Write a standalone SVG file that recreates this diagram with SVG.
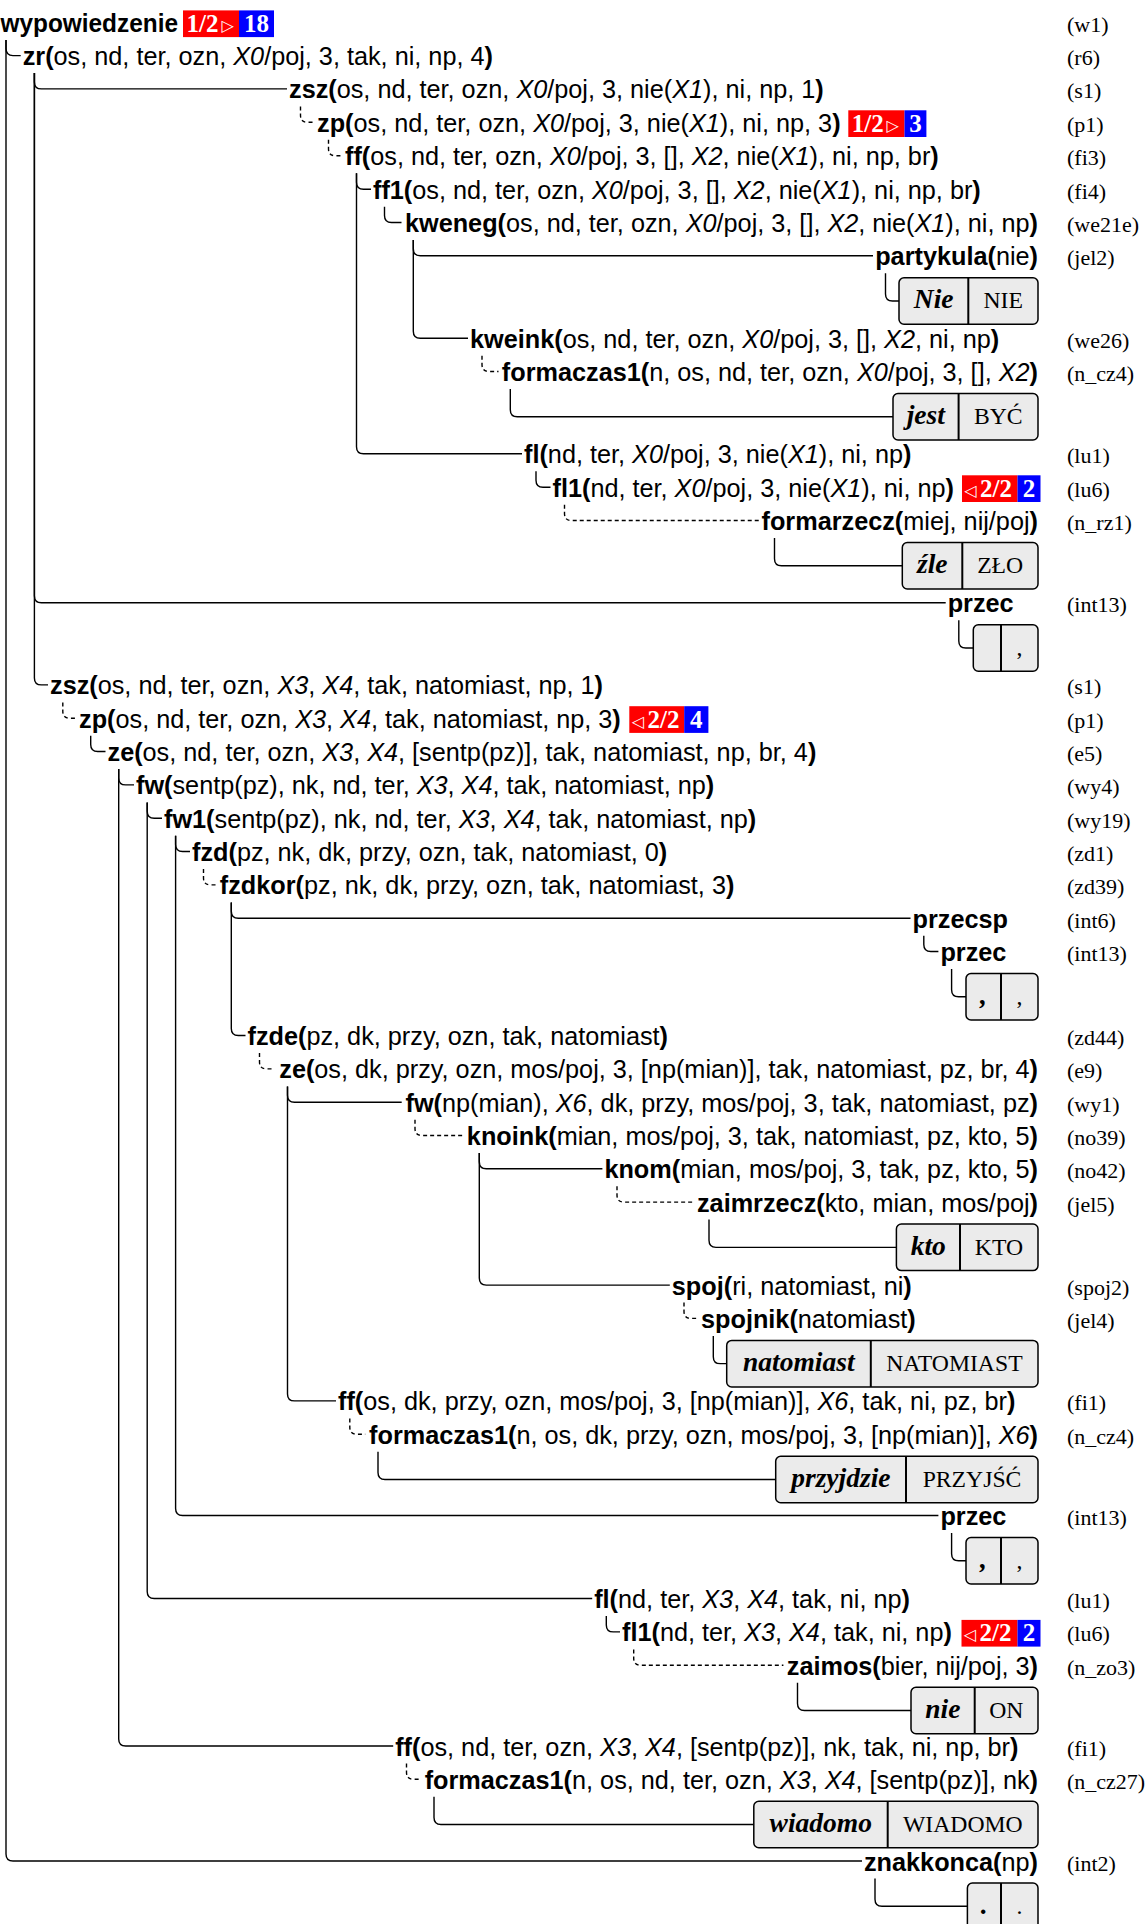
<svg xmlns="http://www.w3.org/2000/svg" width="1147" height="1924" viewBox="0 0 1147 1924">
<style>
text.n{font-family:"Liberation Sans",Arial,sans-serif;font-size:25.25px;fill:#000}
.b{font-weight:bold}
.i{font-style:italic}
.e{text-anchor:end}
text.lab{font-family:"Liberation Serif","Times New Roman",serif;font-size:22px;fill:#000}
.c{fill:none;stroke:#000;stroke-width:1.4}
.d{stroke-dasharray:4 3}
.bx{fill:#ebebeb;stroke:#000;stroke-width:1.5}
.dv{stroke:#000;stroke-width:2}
text.f{font-family:"Liberation Serif","Times New Roman",serif;font-weight:bold;font-style:italic;font-size:27.5px;text-anchor:middle;fill:#000}
text.l{font-family:"Liberation Serif","Times New Roman",serif;font-size:23.7px;text-anchor:middle;fill:#000}
.r{fill:#ff0000}
.u{fill:#0000ff}
text.bt{font-family:"Liberation Serif","Times New Roman",serif;font-weight:bold;font-size:25px;fill:#fff}
text.tr{font-family:"DejaVu Sans",sans-serif;font-size:16px;fill:#fff}
</style>
<g id="connectors">
<path class="c" d="M6 39.9V48.6Q6 55.6 13 55.6H20.7"/>
<path class="c" d="M6 39.9V1854Q6 1861 13 1861H862"/>
<path class="c" d="M34.4 73.1V81.9Q34.4 88.9 41.4 88.9H287"/>
<path class="c" d="M34.4 73.1V595.7Q34.4 602.7 41.4 602.7H945.7"/>
<path class="c" d="M34.4 73.1V677.9Q34.4 684.9 41.4 684.9H48"/>
<path class="c d" d="M300.5 106.4V115.3Q300.5 122.3 307.5 122.3H315"/>
<path class="c d" d="M328.5 139.8V148.8Q328.5 155.8 335.5 155.8H343"/>
<path class="c" d="M356.5 173.3V182.2Q356.5 189.2 363.5 189.2H371"/>
<path class="c" d="M356.5 173.3V446.8Q356.5 453.8 363.5 453.8H522"/>
<path class="c" d="M384.5 206.7V215.5Q384.5 222.5 391.5 222.5H401.5"/>
<path class="c" d="M413.3 240V248.7Q413.3 255.7 420.3 255.7H873"/>
<path class="c" d="M413.3 240V331.2Q413.3 338.2 420.3 338.2H468"/>
<path class="c" d="M885.5 273.2V294Q885.5 301 892.5 301H899"/>
<path class="c d" d="M482 355.7V364.5Q482 371.5 489 371.5H498.5"/>
<path class="c" d="M510.3 389V409.75Q510.3 416.75 517.3 416.75H893"/>
<path class="c" d="M536 471.3V480.3Q536 487.3 543 487.3H550.5"/>
<path class="c d" d="M564.5 504.8V513.5Q564.5 520.5 571.5 520.5H759.6"/>
<path class="c" d="M774.5 538V558.75Q774.5 565.75 781.5 565.75H902.3"/>
<path class="c" d="M958.8 620.2V640.95Q958.8 647.95 965.8 647.95H973.3"/>
<path class="c d" d="M62.8 702.4V711.2Q62.8 718.2 69.8 718.2H77"/>
<path class="c" d="M90.7 735.7V744.5Q90.7 751.5 97.7 751.5H105.5"/>
<path class="c" d="M118.7 769V777.9Q118.7 784.9 125.7 784.9H134"/>
<path class="c" d="M118.7 769V1739Q118.7 1746 125.7 1746H393.2"/>
<path class="c" d="M147.2 802.4V811.2Q147.2 818.2 154.2 818.2H162"/>
<path class="c" d="M147.2 802.4V1591.5Q147.2 1598.5 154.2 1598.5H592.2"/>
<path class="c" d="M175.6 835.7V844.5Q175.6 851.5 182.6 851.5H190"/>
<path class="c" d="M175.6 835.7V1508.5Q175.6 1515.5 182.6 1515.5H938.4"/>
<path class="c d" d="M203.5 869V877.9Q203.5 884.9 210.5 884.9H217.8"/>
<path class="c" d="M231.3 902.4V911.2Q231.3 918.2 238.3 918.2H910.5"/>
<path class="c" d="M231.3 902.4V1028.5Q231.3 1035.5 238.3 1035.5H245.5"/>
<path class="c" d="M923.8 935.7V944.5Q923.8 951.5 930.8 951.5H938.4"/>
<path class="c" d="M951.6 969V989.75Q951.6 996.75 958.6 996.75H966"/>
<path class="c d" d="M259.5 1053V1061.9Q259.5 1068.9 266.5 1068.9H274"/>
<path class="c" d="M287.5 1086.4V1095.2Q287.5 1102.2 294.5 1102.2H401.7"/>
<path class="c" d="M287.5 1086.4V1393.9Q287.5 1400.9 294.5 1400.9H336"/>
<path class="c d" d="M415 1119.7V1128.5Q415 1135.5 422 1135.5H465"/>
<path class="c" d="M479.3 1153V1161.8Q479.3 1168.8 486.3 1168.8H602.4"/>
<path class="c" d="M479.3 1153V1278.1Q479.3 1285.1 486.3 1285.1H669.8"/>
<path class="c d" d="M617 1186.3V1195.1Q617 1202.1 624 1202.1H695"/>
<path class="c" d="M709 1219.6V1240.35Q709 1247.35 716 1247.35H896.4"/>
<path class="c d" d="M684 1302.6V1311.4Q684 1318.4 691 1318.4H699"/>
<path class="c" d="M713.3 1335.9V1356.65Q713.3 1363.65 720.3 1363.65H726.7"/>
<path class="c d" d="M349.8 1418.4V1427.2Q349.8 1434.2 356.8 1434.2H365.2"/>
<path class="c" d="M378 1451.7V1472.45Q378 1479.45 385 1479.45H775.7"/>
<path class="c" d="M951.6 1533V1553.75Q951.6 1560.75 958.6 1560.75H966"/>
<path class="c" d="M606.3 1616V1624.9Q606.3 1631.9 613.3 1631.9H620"/>
<path class="c d" d="M633.7 1649.4V1658.2Q633.7 1665.2 640.7 1665.2H783.4"/>
<path class="c" d="M797.5 1682.7V1703.45Q797.5 1710.45 804.5 1710.45H911"/>
<path class="c d" d="M406.5 1763.5V1772.3Q406.5 1779.3 413.5 1779.3H421.3"/>
<path class="c" d="M434 1796.8V1817.55Q434 1824.55 441 1824.55H753.8"/>
<path class="c" d="M875 1878.5V1899.25Q875 1906.25 882 1906.25H967.4"/>
</g>
<g id="w1">
<text class="n b" x="0.5" y="31.9" textLength="177.5" lengthAdjust="spacingAndGlyphs">wypowiedzenie</text>
<rect class="r" x="183" y="10.4" width="56" height="26.7"/><rect class="u" x="239" y="10.4" width="35" height="26.7"/>
<text class="bt" x="186.5" y="31.9">1/2</text><text class="tr" x="221.5" y="30.9">▷</text>
<text class="bt" x="256.5" y="31.9" text-anchor="middle">18</text>
<text class="lab" x="1067" y="31.9">(w1)</text>
</g>
<g id="r6">
<text class="n" x="22.7" y="65.1"><tspan class="b">zr(</tspan>os, nd, ter, ozn, <tspan class="i">X0</tspan>/poj, 3, tak, ni, np, 4<tspan class="b">)</tspan></text>
<text class="lab" x="1067" y="65.1">(r6)</text>
</g>
<g id="s1a">
<text class="n" x="289" y="98.4"><tspan class="b">zsz(</tspan>os, nd, ter, ozn, <tspan class="i">X0</tspan>/poj, 3, nie(<tspan class="i">X1</tspan>), ni, np, 1<tspan class="b">)</tspan></text>
<text class="lab" x="1067" y="98.4">(s1)</text>
</g>
<g id="p1a">
<text class="n" x="317" y="131.8"><tspan class="b">zp(</tspan>os, nd, ter, ozn, <tspan class="i">X0</tspan>/poj, 3, nie(<tspan class="i">X1</tspan>), ni, np, 3<tspan class="b">)</tspan></text>
<rect class="r" x="848.3" y="110.3" width="56.2" height="26.7"/><rect class="u" x="904.5" y="110.3" width="21.9" height="26.7"/>
<text class="bt" x="851.8" y="131.8">1/2</text><text class="tr" x="886.5" y="130.8">▷</text>
<text class="bt" x="915.45" y="131.8" text-anchor="middle">3</text>
<text class="lab" x="1067" y="131.8">(p1)</text>
</g>
<g id="fi3">
<text class="n" x="345" y="165.3"><tspan class="b">ff(</tspan>os, nd, ter, ozn, <tspan class="i">X0</tspan>/poj, 3, [], <tspan class="i">X2</tspan>, nie(<tspan class="i">X1</tspan>), ni, np, br<tspan class="b">)</tspan></text>
<text class="lab" x="1067" y="165.3">(fi3)</text>
</g>
<g id="fi4">
<text class="n" x="373" y="198.7"><tspan class="b">ff1(</tspan>os, nd, ter, ozn, <tspan class="i">X0</tspan>/poj, 3, [], <tspan class="i">X2</tspan>, nie(<tspan class="i">X1</tspan>), ni, np, br<tspan class="b">)</tspan></text>
<text class="lab" x="1067" y="198.7">(fi4)</text>
</g>
<g id="we21e">
<text class="n e" x="1038" y="232"><tspan class="b">kweneg(</tspan>os, nd, ter, ozn, <tspan class="i">X0</tspan>/poj, 3, [], <tspan class="i">X2</tspan>, nie(<tspan class="i">X1</tspan>), ni, np<tspan class="b">)</tspan></text>
<text class="lab" x="1067" y="232">(we21e)</text>
</g>
<g id="jel2">
<text class="n e" x="1038" y="265.2"><tspan class="b">partykula(</tspan>nie<tspan class="b">)</tspan></text>
<text class="lab" x="1067" y="265.2">(jel2)</text>
</g>
<g id="tok_Nie">
<rect class="bx" x="899" y="277.7" width="139" height="46.5" rx="5"/>
<line class="dv" x1="968.3" y1="277.7" x2="968.3" y2="324.2"/>
<text class="f" x="933.65" y="308.45">Nie</text><text class="l" x="1003.15" y="308.45">NIE</text>
</g>
<g id="we26">
<text class="n" x="470" y="347.7"><tspan class="b">kweink(</tspan>os, nd, ter, ozn, <tspan class="i">X0</tspan>/poj, 3, [], <tspan class="i">X2</tspan>, ni, np<tspan class="b">)</tspan></text>
<text class="lab" x="1067" y="347.7">(we26)</text>
</g>
<g id="n_cz4a">
<text class="n e" x="1038" y="381"><tspan class="b">formaczas1(</tspan>n, os, nd, ter, ozn, <tspan class="i">X0</tspan>/poj, 3, [], <tspan class="i">X2</tspan><tspan class="b">)</tspan></text>
<text class="lab" x="1067" y="381">(n_cz4)</text>
</g>
<g id="tok_jest">
<rect class="bx" x="893" y="393.5" width="145" height="46.5" rx="5"/>
<line class="dv" x1="958.6" y1="393.5" x2="958.6" y2="440"/>
<text class="f" x="925.8" y="424.25">jest</text><text class="l" x="998.3" y="424.25">BYĆ</text>
</g>
<g id="lu1a">
<text class="n" x="524" y="463.3"><tspan class="b">fl(</tspan>nd, ter, <tspan class="i">X0</tspan>/poj, 3, nie(<tspan class="i">X1</tspan>), ni, np<tspan class="b">)</tspan></text>
<text class="lab" x="1067" y="463.3">(lu1)</text>
</g>
<g id="lu6a">
<text class="n" x="552.5" y="496.8"><tspan class="b">fl1(</tspan>nd, ter, <tspan class="i">X0</tspan>/poj, 3, nie(<tspan class="i">X1</tspan>), ni, np<tspan class="b">)</tspan></text>
<rect class="r" x="962" y="475.3" width="55.5" height="26.7"/><rect class="u" x="1017.5" y="475.3" width="23" height="26.7"/>
<text class="tr" x="964.5" y="495.8">◁</text><text class="bt" x="980" y="496.8">2/2</text>
<text class="bt" x="1029" y="496.8" text-anchor="middle">2</text>
<text class="lab" x="1067" y="496.8">(lu6)</text>
</g>
<g id="n_rz1">
<text class="n e" x="1038" y="530"><tspan class="b">formarzecz(</tspan>miej, nij/poj<tspan class="b">)</tspan></text>
<text class="lab" x="1067" y="530">(n_rz1)</text>
</g>
<g id="tok_zle">
<rect class="bx" x="902.3" y="542.5" width="135.7" height="46.5" rx="5"/>
<line class="dv" x1="962.3" y1="542.5" x2="962.3" y2="589"/>
<text class="f" x="932.3" y="573.25">źle</text><text class="l" x="1000.15" y="573.25">ZŁO</text>
</g>
<g id="int13a">
<text class="n b" x="947.7" y="612.2">przec</text>
<text class="lab" x="1067" y="612.2">(int13)</text>
</g>
<g id="tok_comma1">
<rect class="bx" x="973.3" y="624.7" width="64.7" height="46.5" rx="5"/>
<line class="dv" x1="1001" y1="624.7" x2="1001" y2="671.2"/>
<text class="l" x="1019.5" y="655.45">,</text>
</g>
<g id="s1b">
<text class="n" x="50" y="694.4"><tspan class="b">zsz(</tspan>os, nd, ter, ozn, <tspan class="i">X3</tspan>, <tspan class="i">X4</tspan>, tak, natomiast, np, 1<tspan class="b">)</tspan></text>
<text class="lab" x="1067" y="694.4">(s1)</text>
</g>
<g id="p1b">
<text class="n" x="79" y="727.7"><tspan class="b">zp(</tspan>os, nd, ter, ozn, <tspan class="i">X3</tspan>, <tspan class="i">X4</tspan>, tak, natomiast, np, 3<tspan class="b">)</tspan></text>
<rect class="r" x="629.3" y="706.2" width="54.9" height="26.7"/><rect class="u" x="684.2" y="706.2" width="24.2" height="26.7"/>
<text class="tr" x="632" y="726.7">◁</text><text class="bt" x="647.5" y="727.7">2/2</text>
<text class="bt" x="696.3" y="727.7" text-anchor="middle">4</text>
<text class="lab" x="1067" y="727.7">(p1)</text>
</g>
<g id="e5">
<text class="n" x="107.5" y="761"><tspan class="b">ze(</tspan>os, nd, ter, ozn, <tspan class="i">X3</tspan>, <tspan class="i">X4</tspan>, [sentp(pz)], tak, natomiast, np, br, 4<tspan class="b">)</tspan></text>
<text class="lab" x="1067" y="761">(e5)</text>
</g>
<g id="wy4">
<text class="n" x="136" y="794.4"><tspan class="b">fw(</tspan>sentp(pz), nk, nd, ter, <tspan class="i">X3</tspan>, <tspan class="i">X4</tspan>, tak, natomiast, np<tspan class="b">)</tspan></text>
<text class="lab" x="1067" y="794.4">(wy4)</text>
</g>
<g id="wy19">
<text class="n" x="164" y="827.7"><tspan class="b">fw1(</tspan>sentp(pz), nk, nd, ter, <tspan class="i">X3</tspan>, <tspan class="i">X4</tspan>, tak, natomiast, np<tspan class="b">)</tspan></text>
<text class="lab" x="1067" y="827.7">(wy19)</text>
</g>
<g id="zd1">
<text class="n" x="192" y="861"><tspan class="b">fzd(</tspan>pz, nk, dk, przy, ozn, tak, natomiast, 0<tspan class="b">)</tspan></text>
<text class="lab" x="1067" y="861">(zd1)</text>
</g>
<g id="zd39">
<text class="n" x="219.8" y="894.4"><tspan class="b">fzdkor(</tspan>pz, nk, dk, przy, ozn, tak, natomiast, 3<tspan class="b">)</tspan></text>
<text class="lab" x="1067" y="894.4">(zd39)</text>
</g>
<g id="int6">
<text class="n b" x="912.5" y="927.7">przecsp</text>
<text class="lab" x="1067" y="927.7">(int6)</text>
</g>
<g id="int13b">
<text class="n b" x="940.4" y="961">przec</text>
<text class="lab" x="1067" y="961">(int13)</text>
</g>
<g id="tok_comma2">
<rect class="bx" x="966" y="973.5" width="72" height="46.5" rx="5"/>
<line class="dv" x1="1001" y1="973.5" x2="1001" y2="1020"/>
<text class="f" x="983.5" y="1004.25">,</text><text class="l" x="1019.5" y="1004.25">,</text>
</g>
<g id="zd44">
<text class="n" x="247.5" y="1045"><tspan class="b">fzde(</tspan>pz, dk, przy, ozn, tak, natomiast<tspan class="b">)</tspan></text>
<text class="lab" x="1067" y="1045">(zd44)</text>
</g>
<g id="e9">
<text class="n e" x="1038" y="1078.4"><tspan class="b">ze(</tspan>os, dk, przy, ozn, mos/poj, 3, [np(mian)], tak, natomiast, pz, br, 4<tspan class="b">)</tspan></text>
<text class="lab" x="1067" y="1078.4">(e9)</text>
</g>
<g id="wy1">
<text class="n e" x="1038" y="1111.7"><tspan class="b">fw(</tspan>np(mian), <tspan class="i">X6</tspan>, dk, przy, mos/poj, 3, tak, natomiast, pz<tspan class="b">)</tspan></text>
<text class="lab" x="1067" y="1111.7">(wy1)</text>
</g>
<g id="no39">
<text class="n e" x="1038" y="1145"><tspan class="b">knoink(</tspan>mian, mos/poj, 3, tak, natomiast, pz, kto, 5<tspan class="b">)</tspan></text>
<text class="lab" x="1067" y="1145">(no39)</text>
</g>
<g id="no42">
<text class="n e" x="1038" y="1178.3"><tspan class="b">knom(</tspan>mian, mos/poj, 3, tak, pz, kto, 5<tspan class="b">)</tspan></text>
<text class="lab" x="1067" y="1178.3">(no42)</text>
</g>
<g id="jel5">
<text class="n e" x="1038" y="1211.6"><tspan class="b">zaimrzecz(</tspan>kto, mian, mos/poj<tspan class="b">)</tspan></text>
<text class="lab" x="1067" y="1211.6">(jel5)</text>
</g>
<g id="tok_kto">
<rect class="bx" x="896.4" y="1224.1" width="141.6" height="46.5" rx="5"/>
<line class="dv" x1="960" y1="1224.1" x2="960" y2="1270.6"/>
<text class="f" x="928.2" y="1254.85">kto</text><text class="l" x="999" y="1254.85">KTO</text>
</g>
<g id="spoj2">
<text class="n" x="671.8" y="1294.6"><tspan class="b">spoj(</tspan>ri, natomiast, ni<tspan class="b">)</tspan></text>
<text class="lab" x="1067" y="1294.6">(spoj2)</text>
</g>
<g id="jel4">
<text class="n" x="701" y="1327.9"><tspan class="b">spojnik(</tspan>natomiast<tspan class="b">)</tspan></text>
<text class="lab" x="1067" y="1327.9">(jel4)</text>
</g>
<g id="tok_natomiast">
<rect class="bx" x="726.7" y="1340.4" width="311.3" height="46.5" rx="5"/>
<line class="dv" x1="870.8" y1="1340.4" x2="870.8" y2="1386.9"/>
<text class="f" x="798.75" y="1371.15">natomiast</text><text class="l" x="954.4" y="1371.15">NATOMIAST</text>
</g>
<g id="fi1a">
<text class="n" x="338" y="1410.4"><tspan class="b">ff(</tspan>os, dk, przy, ozn, mos/poj, 3, [np(mian)], <tspan class="i">X6</tspan>, tak, ni, pz, br<tspan class="b">)</tspan></text>
<text class="lab" x="1067" y="1410.4">(fi1)</text>
</g>
<g id="n_cz4b">
<text class="n e" x="1038" y="1443.7"><tspan class="b">formaczas1(</tspan>n, os, dk, przy, ozn, mos/poj, 3, [np(mian)], <tspan class="i">X6</tspan><tspan class="b">)</tspan></text>
<text class="lab" x="1067" y="1443.7">(n_cz4)</text>
</g>
<g id="tok_przyjdzie">
<rect class="bx" x="775.7" y="1456.2" width="262.3" height="46.5" rx="5"/>
<line class="dv" x1="906" y1="1456.2" x2="906" y2="1502.7"/>
<text class="f" x="840.85" y="1486.95">przyjdzie</text><text class="l" x="972" y="1486.95">PRZYJŚĆ</text>
</g>
<g id="int13c">
<text class="n b" x="940.4" y="1525">przec</text>
<text class="lab" x="1067" y="1525">(int13)</text>
</g>
<g id="tok_comma3">
<rect class="bx" x="966" y="1537.5" width="72" height="46.5" rx="5"/>
<line class="dv" x1="1001" y1="1537.5" x2="1001" y2="1584"/>
<text class="f" x="983.5" y="1568.25">,</text><text class="l" x="1019.5" y="1568.25">,</text>
</g>
<g id="lu1b">
<text class="n" x="594.2" y="1608"><tspan class="b">fl(</tspan>nd, ter, <tspan class="i">X3</tspan>, <tspan class="i">X4</tspan>, tak, ni, np<tspan class="b">)</tspan></text>
<text class="lab" x="1067" y="1608">(lu1)</text>
</g>
<g id="lu6b">
<text class="n" x="622" y="1641.4"><tspan class="b">fl1(</tspan>nd, ter, <tspan class="i">X3</tspan>, <tspan class="i">X4</tspan>, tak, ni, np<tspan class="b">)</tspan></text>
<rect class="r" x="961.5" y="1619.9" width="56" height="26.7"/><rect class="u" x="1017.5" y="1619.9" width="23" height="26.7"/>
<text class="tr" x="964" y="1640.4">◁</text><text class="bt" x="979.5" y="1641.4">2/2</text>
<text class="bt" x="1029" y="1641.4" text-anchor="middle">2</text>
<text class="lab" x="1067" y="1641.4">(lu6)</text>
</g>
<g id="n_zo3">
<text class="n e" x="1038" y="1674.7"><tspan class="b">zaimos(</tspan>bier, nij/poj, 3<tspan class="b">)</tspan></text>
<text class="lab" x="1067" y="1674.7">(n_zo3)</text>
</g>
<g id="tok_nie">
<rect class="bx" x="911" y="1687.2" width="127" height="46.5" rx="5"/>
<line class="dv" x1="974.7" y1="1687.2" x2="974.7" y2="1733.7"/>
<text class="f" x="942.85" y="1717.95">nie</text><text class="l" x="1006.35" y="1717.95">ON</text>
</g>
<g id="fi1b">
<text class="n" x="395.2" y="1755.5"><tspan class="b">ff(</tspan>os, nd, ter, ozn, <tspan class="i">X3</tspan>, <tspan class="i">X4</tspan>, [sentp(pz)], nk, tak, ni, np, br<tspan class="b">)</tspan></text>
<text class="lab" x="1067" y="1755.5">(fi1)</text>
</g>
<g id="n_cz27">
<text class="n e" x="1038" y="1788.8"><tspan class="b">formaczas1(</tspan>n, os, nd, ter, ozn, <tspan class="i">X3</tspan>, <tspan class="i">X4</tspan>, [sentp(pz)], nk<tspan class="b">)</tspan></text>
<text class="lab" x="1067" y="1788.8">(n_cz27)</text>
</g>
<g id="tok_wiadomo">
<rect class="bx" x="753.8" y="1801.3" width="284.2" height="46.5" rx="5"/>
<line class="dv" x1="887.7" y1="1801.3" x2="887.7" y2="1847.8"/>
<text class="f" x="820.75" y="1832.05">wiadomo</text><text class="l" x="962.85" y="1832.05">WIADOMO</text>
</g>
<g id="int2">
<text class="n e" x="1038" y="1870.5"><tspan class="b">znakkonca(</tspan>np<tspan class="b">)</tspan></text>
<text class="lab" x="1067" y="1870.5">(int2)</text>
</g>
<g id="tok_dot">
<rect class="bx" x="967.4" y="1883" width="70.6" height="46.5" rx="5"/>
<line class="dv" x1="1001" y1="1883" x2="1001" y2="1929.5"/>
<text class="f" x="984.2" y="1913.75">.</text><text class="l" x="1019.5" y="1913.75">.</text>
</g>
</svg>
